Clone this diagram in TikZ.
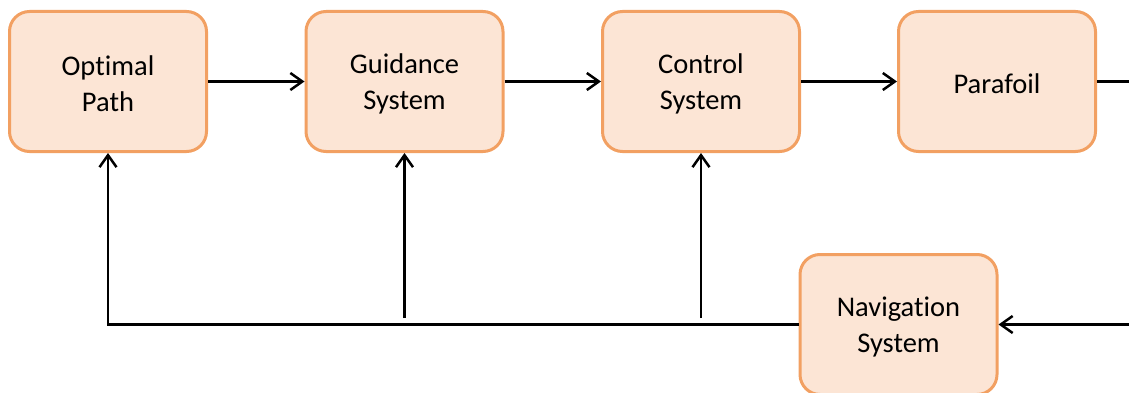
\documentclass[tikz,border=0pt]{standalone}
\usepackage{fontspec}
\setmainfont{Carlito}[Ligatures={NoCommon}]
\usetikzlibrary{arrows.meta}
\definecolor{boxfill}{HTML}{FCE5D5}
\definecolor{boxline}{HTML}{F2A062}
\begin{document}
\begin{tikzpicture}[x=1pt,y=-1pt,
  txt/.style={align=center, inner sep=0pt, font=\fontsize{28.5}{36}\selectfont},
  block/.style={draw=boxline, fill=boxfill, line width=3pt, rounded corners=20pt,
    minimum width=197pt, minimum height=140pt,
    label={[txt,yshift=-2pt]center:#1}},
  flow/.style={line width=2.5pt, -{Straight Barb[length=12pt,width=17pt,line width=2.5pt]}},
  link/.style={line width=2.5pt}]
\useasboundingbox (0,0) rectangle (1129,393);

% blocks of the guidance loop
\node[block={Optimal\\Path}]       (opt) at (108,81.5)    {};
\node[block={Guidance\\System}]    (gui) at (404.5,81.5)  {};
\node[block={Control\\System}]     (con) at (701,81.5)    {};
\node[block={Parafoil}]            (par) at (997,81.5)    {};
\node[block={Navigation\\System}]  (nav) at (898.5,324.5) {};

% free ends of the connectors
\coordinate (pout) at (1132,81.5);
\coordinate (nin)  at (1132,324.5);
\coordinate (gfoot) at (404.5,318);
\coordinate (cfoot) at (701,318);

% forward path
\draw[flow] (opt.east) -- (gui.west);
\draw[flow] (gui.east) -- (con.west);
\draw[flow] (con.east) -- (par.west);
\draw[link] (par.east) -- (pout);

% feedback path
\draw[flow] (nin) -- (nav.east);
\draw[flow] (nav.west) -| (opt.south);
\draw[flow] (gfoot) -- (gui.south);
\draw[flow] (cfoot) -- (con.south);
\end{tikzpicture}
\end{document}
